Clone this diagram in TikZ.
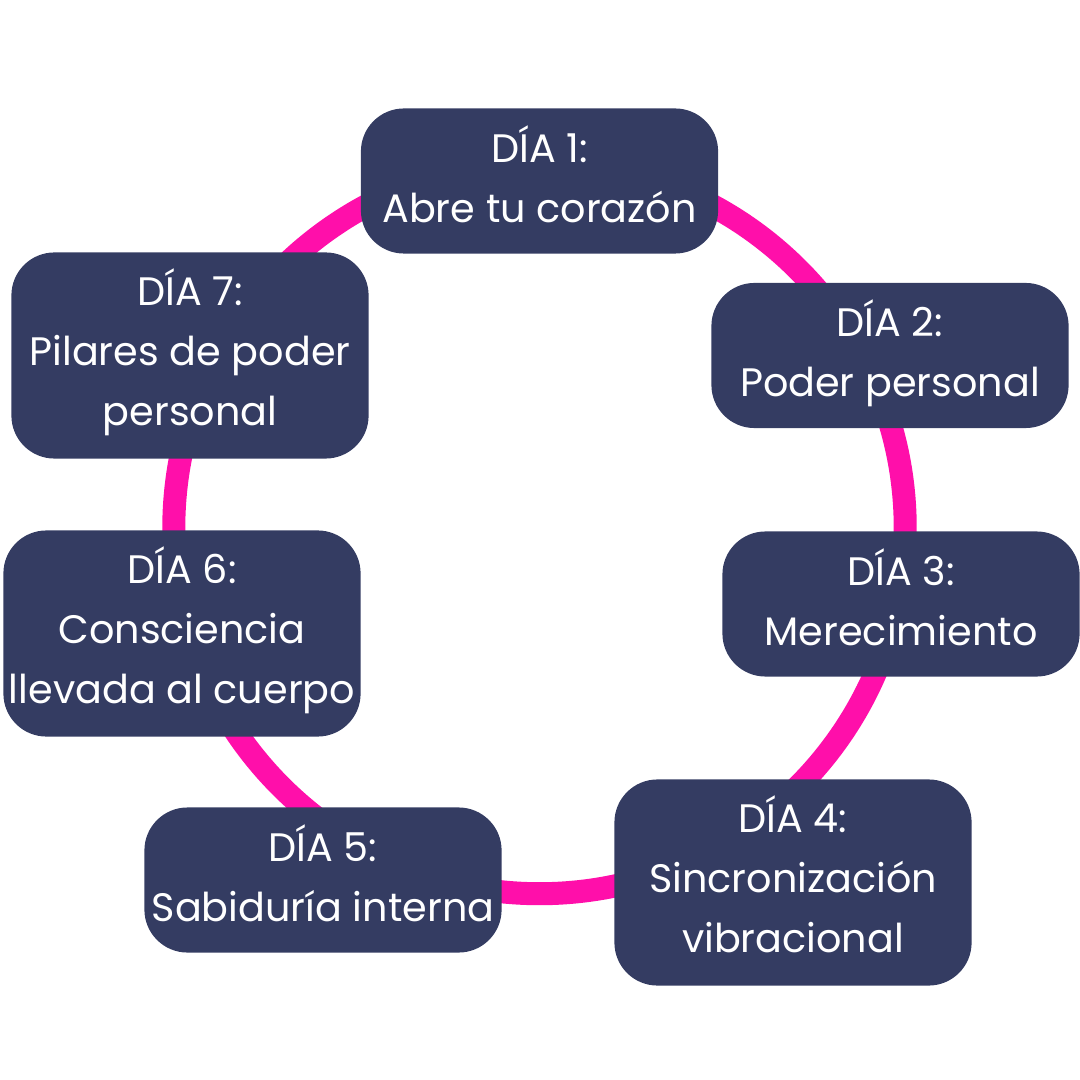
\documentclass[tikz,border=0pt]{standalone}
\usepackage{fontspec}
\setmainfont{Poppins}
\definecolor{navy}{HTML}{343C62}
\definecolor{rosa}{HTML}{FF0FAA}
\tikzset{
	dia/.style={rectangle, rounded corners=0.43cm, fill=navy, text=white, align=center, inner sep=0pt, minimum width=3.57cm, font=\fontsize{11.3}{17}\selectfont},
	corto/.style={dia, minimum height=1.45cm, text height=0.82cm, text depth=0cm},
	largo/.style={dia, minimum height=2.06cm, text height=1.39cm, text depth=0cm}
}
\begin{document}
\begin{tikzpicture}[x=0.01cm, y=-0.01cm]
		\useasboundingbox (0,0) rectangle (1080,1080);
		\node (ring)[circle, draw=rosa, line width=0.23cm, minimum size=7.31cm, inner sep=0pt] at (539.5,528) {};
		\node (1)[corto] at (539.5,181) {DÍA 1:\\Abre tu corazón};
		\node (2)[corto] at (890,355.5) {DÍA 2:\\Poder personal};
		\node (3)[corto] at (901,604) {DÍA 3:\\Merecimiento};
		\node (4)[largo] at (793,882.5) {DÍA 4:\\Sincronización\\vibracional};
		\node (5)[corto] at (323,880) {DÍA 5:\\Sabiduría interna};
		\node (6)[largo] at (182,633.5) {DÍA 6:\\Consciencia\\llevada al cuerpo};
		\node (7)[largo] at (190,355.5) {DÍA 7:\\Pilares de poder\\personal};
	\end{tikzpicture}
\end{document}
